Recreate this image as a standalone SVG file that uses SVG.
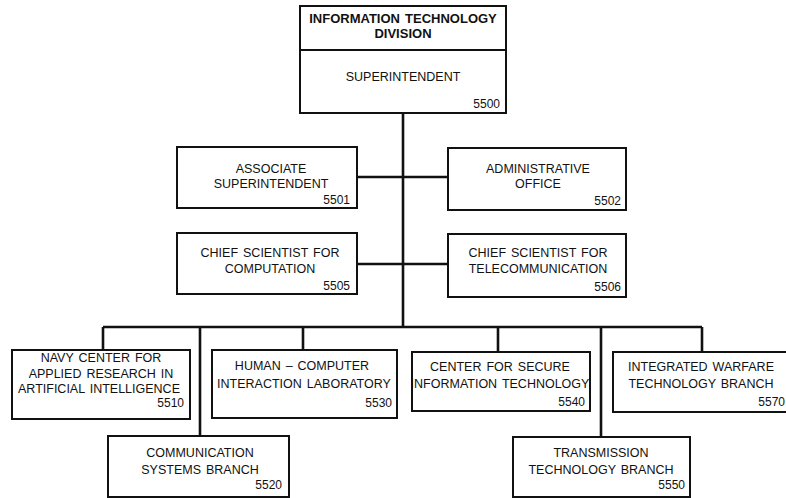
<svg xmlns="http://www.w3.org/2000/svg" width="786" height="498" viewBox="0 0 786 498">
<style>
.box{fill:#fff;stroke:#111;stroke-width:2}
.ln{fill:none;stroke:#111;stroke-width:2.6}
text{font-family:"Liberation Sans",Arial,sans-serif;font-size:12.5px;fill:#111;word-spacing:1.5px}
.t{text-anchor:middle}
.n{text-anchor:end;font-size:12px;word-spacing:0}
.b{font-weight:bold;font-size:13px}
</style>
<rect width="786" height="498" fill="#fff"/>
<g id="connectors">
<path class="ln" d="M403 113V327M357 177H448M357 264H448M103 327H702M103 327V350M303 327V350M498 327V352M702 327V352M200 327V436M601 327V437"/>
</g>
<g id="n5500">
<rect class="box" x="300" y="6" width="206" height="107"/>
<line class="box" x1="300" y1="50" x2="506" y2="50"/>
<text class="t b" x="403" y="23">INFORMATION TECHNOLOGY</text>
<text class="t b" x="403" y="38">DIVISION</text>
<text class="t" x="403" y="81">SUPERINTENDENT</text>
<text class="n" x="500" y="108">5500</text>
</g>
<g id="n5501">
<rect class="box" x="177" y="147" width="180" height="61"/>
<text class="t" x="271" y="173">ASSOCIATE</text>
<text class="t" x="271" y="188">SUPERINTENDENT</text>
<text class="n" x="350" y="204">5501</text>
</g>
<g id="n5502">
<rect class="box" x="448" y="148" width="178" height="62"/>
<text class="t" x="538" y="173">ADMINISTRATIVE</text>
<text class="t" x="538" y="188">OFFICE</text>
<text class="n" x="621" y="205">5502</text>
</g>
<g id="n5505">
<rect class="box" x="177" y="233" width="180" height="61"/>
<text class="t" x="270" y="257">CHIEF SCIENTIST FOR</text>
<text class="t" x="270" y="273">COMPUTATION</text>
<text class="n" x="350" y="290">5505</text>
</g>
<g id="n5506">
<rect class="box" x="448" y="234" width="178" height="63"/>
<text class="t" x="538" y="257">CHIEF SCIENTIST FOR</text>
<text class="t" x="538" y="273">TELECOMMUNICATION</text>
<text class="n" x="621" y="291">5506</text>
</g>
<g id="n5510">
<rect class="box" x="12" y="350" width="178" height="69"/>
<text class="t" x="101" y="362">NAVY CENTER FOR</text>
<text class="t" x="101" y="378">APPLIED RESEARCH IN</text>
<text class="t" x="99" y="393">ARTIFICIAL INTELLIGENCE</text>
<text class="n" x="184" y="407">5510</text>
</g>
<g id="n5530">
<rect class="box" x="212" y="350" width="185" height="68"/>
<text class="t" x="302" y="370">HUMAN – COMPUTER</text>
<text class="t" x="304" y="388">INTERACTION LABORATORY</text>
<text class="n" x="392" y="407">5530</text>
</g>
<g id="n5540">
<rect class="box" x="412" y="352" width="178" height="59"/>
<text class="t" x="500" y="371">CENTER FOR SECURE</text>
<text class="t" x="500" y="388">INFORMATION TECHNOLOGY</text>
<text class="n" x="585" y="406">5540</text>
</g>
<g id="n5570">
<rect class="box" x="613" y="352" width="180" height="60"/>
<text class="t" x="701" y="371">INTEGRATED WARFARE</text>
<text class="t" x="701" y="388">TECHNOLOGY BRANCH</text>
<text class="n" x="785" y="406">5570</text>
</g>
<g id="n5520">
<rect class="box" x="108" y="436" width="181" height="61"/>
<text class="t" x="200" y="457">COMMUNICATION</text>
<text class="t" x="200" y="474">SYSTEMS BRANCH</text>
<text class="n" x="282" y="489">5520</text>
</g>
<g id="n5550">
<rect class="box" x="513" y="437" width="177" height="60"/>
<text class="t" x="601" y="457">TRANSMISSION</text>
<text class="t" x="601" y="474">TECHNOLOGY BRANCH</text>
<text class="n" x="685" y="489">5550</text>
</g>
</svg>
